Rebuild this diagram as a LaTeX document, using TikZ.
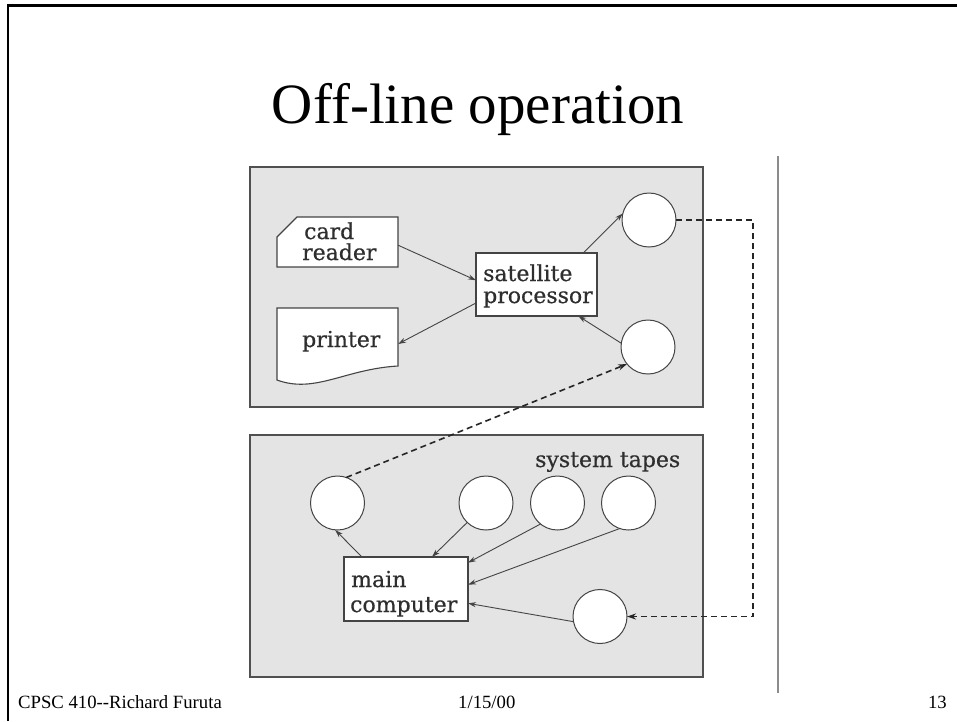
\documentclass[tikz,border=0pt]{standalone}
\usepackage{fontspec}
\setmainfont{Liberation Serif}
\newfontfamily\dfont[FakeBold=0.5]{DejaVu Serif}
\usetikzlibrary{arrows.meta}
\definecolor{panelfill}{HTML}{E4E4E4}
\definecolor{paneledge}{HTML}{505050}
\definecolor{edgec}{HTML}{444444}
\definecolor{txtc}{HTML}{2E2E2E}
\tikzset{
  panel/.style={draw=paneledge, fill=panelfill, line width=1.3pt, inner sep=0pt, outer sep=0pt},
  devbox/.style={draw=edgec, fill=white, line width=1.1pt, inner sep=0pt, outer sep=0pt},
  hidbox/.style={draw=none, inner sep=0pt, outer sep=0pt},
  tape/.style={circle, draw=edgec, fill=white, line width=1pt, minimum size=54pt, inner sep=0pt, outer sep=0pt},
  lbl/.style={anchor=base west, inner sep=0pt, text=txtc, font=\dfont\fontsize{22}{22}\selectfont},
  arr/.style={draw=edgec, line width=0.9pt, -{Stealth[length=8pt,width=5pt]}},
  dline/.style={draw=black!85, line width=1.6pt, dash pattern=on 6pt off 4pt},
  darr/.style={dline, -{Stealth[length=9pt,width=6pt]}},
  foot/.style={inner sep=0pt, font=\fontsize{18.7}{20}\selectfont}
}
\begin{document}
\begin{tikzpicture}[x=1pt,y=-1pt]
\useasboundingbox (0,0) rectangle (957,721);
\fill[white] (0,0) rectangle (957,721);
% slide frame
\draw[line width=2.5pt] (8,721) -- (8,5.5) -- (957,5.5);
% title
\node[anchor=base, inner sep=0pt, font=\fontsize{57}{60}\selectfont] (title) at (478,123) {Off-line operation};
% divider
\draw[draw=black!45, line width=2pt] (778,156) -- (778,693);
% panels
\node[panel, minimum width=453pt, minimum height=240pt] (toppanel) at (476.5,287) {};
\node[panel, minimum width=453pt, minimum height=242pt] (botpanel) at (476.5,556) {};
% card reader
\node[hidbox, minimum width=121pt, minimum height=50pt] (card) at (337.5,242) {};
\draw[devbox] (card.south west) -- ++(0,-30) -- ++(20,-20) -- (card.north east) -- (card.south east) -- cycle;
\node[lbl] (cardA) at (304,239) {card};
\node[lbl] (cardB) at (302,260) {reader};
% printer
\node[hidbox, minimum width=121pt, minimum height=72pt] (printer) at (337.5,344) {};
\draw[devbox] (printer.south west) -- (printer.north west) -- (printer.north east) -- (398,366)
  .. controls (345,369) and (315,394) .. (printer.south west) -- cycle;
\node[lbl] (printerA) at (302,347) {printer};
% satellite processor
\node[devbox, minimum width=121pt, minimum height=63pt] (sat) at (536.5,284.5) {};
\node[lbl] (satA) at (483,281) {satellite};
\node[lbl] (satB) at (483,303) {processor};
% top tapes
\node[tape] (t1) at (649,220) {};
\node[tape] (t2) at (648,347) {};
% bottom panel
\node[lbl] (systapes) at (535,467) {system tapes};
\node[tape] (b0) at (337.5,503) {};
\node[tape] (b1) at (486,503) {};
\node[tape] (b2) at (557.5,503) {};
\node[tape] (b3) at (628.5,503) {};
\node[tape] (b4) at (600,616.5) {};
\node[devbox, minimum width=124pt, minimum height=64pt] (main) at (406,589) {};
\node[lbl] (mainA) at (351,587) {main};
\node[lbl] (mainB) at (350,612) {computer};
% connectors top
\draw[arr] (card.357) -- (sat.176);
\draw[arr] (sat.197) -- (printer.east);
\draw[arr] (sat.34) -- (t1.166);
\draw[arr] (t2.172) -- (sat.323);
% connectors bottom
\draw[arr] (main.144) -- (b0.265);
\draw[arr] (b1.226) -- (main.51);
\draw[arr] (b2.231) -- (main.23);
\draw[arr] (b3.251) -- (main.4);
\draw[arr] (b4.191) -- (main.347);
% dashed links
\coordinate (dx) at (753,0);
\draw[darr] (t1.east) -- (t1.east -| dx) -- (dx |- b4.east) -- (b4.east);
\draw[darr] (b0.71) -- (t2.219);
% footer
\node[foot, anchor=base west] (f1) at (18,708) {CPSC 410-{}-Richard Furuta};
\node[foot, anchor=base west] (f2) at (458,708) {1/15/00};
\node[foot, anchor=base east] (f3) at (947,708) {13};
\end{tikzpicture}
\end{document}
